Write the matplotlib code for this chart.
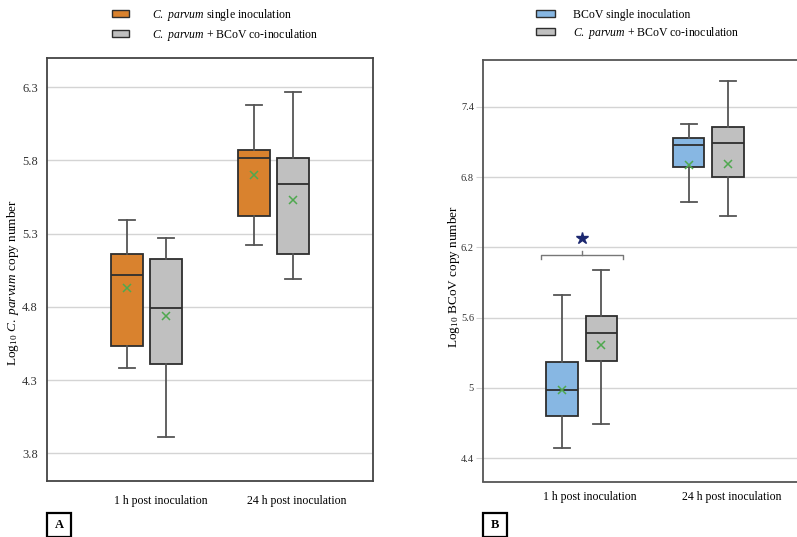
import numpy as np
import matplotlib as mpl
mpl.use('Agg')
import matplotlib.pyplot as plt
from matplotlib.patches import Patch, Rectangle

plt.rcParams['font.family'] = ['Liberation Serif', 'DejaVu Serif']
plt.rcParams['mathtext.fontset'] = 'custom'
plt.rcParams['mathtext.rm'] = 'Liberation Serif'
plt.rcParams['mathtext.it'] = 'Liberation Serif:italic'

# ---- data ----
groups = ['1 h post inoculation', '24 h post inoculation']

# panel A: C. parvum copy number (log10), one entry per time point
a_single_lo = [4.38, 5.22]
a_single_q1 = [4.53, 5.42]
a_single_med = [5.02, 5.82]
a_single_q3 = [5.16, 5.87]
a_single_hi = [5.39, 6.18]
a_single_mean = [4.93, 5.70]

a_co_lo = [3.91, 4.99]
a_co_q1 = [4.41, 5.16]
a_co_med = [4.79, 5.64]
a_co_q3 = [5.13, 5.82]
a_co_hi = [5.27, 6.27]
a_co_mean = [4.74, 5.53]

# panel B: BCoV copy number (log10)
b_single_lo = [4.49, 6.59]
b_single_q1 = [4.76, 6.89]
b_single_med = [4.98, 7.07]
b_single_q3 = [5.22, 7.13]
b_single_hi = [5.79, 7.25]
b_single_mean = [4.98, 6.90]

b_co_lo = [4.69, 6.47]
b_co_q1 = [5.23, 6.80]
b_co_med = [5.47, 7.09]
b_co_q3 = [5.61, 7.23]
b_co_hi = [6.01, 7.62]
b_co_mean = [5.37, 6.91]

a_ticks = [3.8, 4.3, 4.8, 5.3, 5.8, 6.3]
b_ticks = [4.4, 5.0, 5.6, 6.2, 6.8, 7.4]
b_tick_labels = ['4.4', '5', '5.6', '6.2', '6.8', '7.4']

ORANGE = '#d9822e'
GREY = '#c0c0c0'
BLUE = '#87b7e3'
EDGE = '#2e2e2e'
WHISK = '#555555'
GRID = '#d4d4d4'

FS = 8.5
W, H = 797, 537
CP = r'$\mathit{C.}$ $\mathit{parvum}$'


def stats(lo, q1, med, q3, hi, mean):
    return [dict(whislo=lo[i], q1=q1[i], med=med[i], q3=q3[i], whishi=hi[i],
                 mean=mean[i], fliers=[]) for i in range(len(lo))]


def draw_boxes(ax, st, pos, color):
    ax.bxp(st, positions=pos, widths=0.252, patch_artist=True, showmeans=True,
           showfliers=False, manage_ticks=False,
           boxprops=dict(facecolor=color, edgecolor=EDGE, linewidth=1.3),
           medianprops=dict(color=EDGE, linewidth=1.3),
           whiskerprops=dict(color=WHISK, linewidth=1.3),
           capprops=dict(color=WHISK, linewidth=1.3),
           meanprops=dict(marker='x', markeredgecolor='#4fa84f',
                          markersize=6, markeredgewidth=1.1))


def fig_axes(left, top, right, bottom):
    return fig.add_axes([left / W, 1 - bottom / H, (right - left) / W,
                         (bottom - top) / H])


fig = plt.figure(figsize=(W / 100, H / 100), dpi=100)
x = np.arange(1, len(groups) + 1)
off = 0.155

# ---------------- panel A ----------------
axA = fig_axes(47, 58, 373, 481)
draw_boxes(axA, stats(a_single_lo, a_single_q1, a_single_med, a_single_q3,
                      a_single_hi, a_single_mean), x - off, ORANGE)
draw_boxes(axA, stats(a_co_lo, a_co_q1, a_co_med, a_co_q3, a_co_hi,
                      a_co_mean), x + off, GREY)
axA.set_xlim(0.217, 2.783)
axA.set_ylim(3.61, 6.5)
axA.set_yticks(a_ticks)
axA.set_yticklabels(['%.1f' % t for t in a_ticks])
axA.set_xticks(x + np.array([0.11, 0.18]))
axA.set_xticklabels(groups)
axA.tick_params(axis='y', length=0, pad=6.5, labelsize=9, labelcolor='#333333')
axA.tick_params(axis='x', length=0, pad=10, labelsize=FS)
axA.yaxis.grid(True, color=GRID, linewidth=1)
axA.set_axisbelow(True)
for s in axA.spines.values():
    s.set_color('#444444')
    s.set_linewidth(1.3)
axA.set_ylabel(r'Log$_{10}$ ' + CP + ' copy number', fontsize=9.5)
axA.yaxis.set_label_coords(-0.081, 0.47)

# ---------------- panel B ----------------
axB = fig_axes(483, 60, 807, 481.5)
draw_boxes(axB, stats(b_single_lo, b_single_q1, b_single_med, b_single_q3,
                      b_single_hi, b_single_mean), x - off, BLUE)
draw_boxes(axB, stats(b_co_lo, b_co_q1, b_co_med, b_co_q3, b_co_hi,
                      b_co_mean), x + off, GREY)
axB.set_xlim(0.217, 2.783)
axB.set_ylim(4.2, 7.8)
axB.set_yticks(b_ticks)
axB.set_yticklabels(b_tick_labels)
axB.set_xticks(x + np.array([0.065, 0.19]))
axB.set_xticklabels(groups)
axB.tick_params(axis='y', length=5, color=GRID, pad=1.5, labelsize=7.5,
                labelcolor='#333333')
axB.tick_params(axis='x', length=0, pad=7, labelsize=FS)
axB.yaxis.grid(True, color=GRID, linewidth=1)
axB.set_axisbelow(True)
for s in axB.spines.values():
    s.set_color('#555555')
    s.set_linewidth(1.3)
axB.set_ylabel(r'Log$_{10}$ BCoV copy number', fontsize=9.5)
axB.yaxis.set_label_coords(-0.064, 0.485)

# significance bracket over the 1 h boxes
bl, br, by = x[0] - 0.327, x[0] + 0.327, 6.138
axB.plot([bl, bl, br, br], [by - 0.035, by, by, by - 0.035], color='#777777',
         lw=1)
axB.plot([x[0], x[0]], [by, by + 0.03], color='#777777', lw=1)
axB.plot([x[0]], [6.28], marker='*', color='#1c2870', markersize=9)

# ---------------- legends ----------------
legA = [Patch(facecolor=ORANGE, edgecolor=EDGE, linewidth=1),
        Patch(facecolor=GREY, edgecolor=EDGE, linewidth=1)]
fig.legend(legA, [CP + ' single inoculation',
                  CP + ' + BCoV co-inoculation'],
           loc='upper left', bbox_to_anchor=(112 / W, 1 - 7 / H),
           frameon=False, fontsize=FS, handlelength=1.45, handleheight=0.55,
           handletextpad=1.9, labelspacing=0.3, borderpad=0, borderaxespad=0)

legB = [Patch(facecolor=BLUE, edgecolor=EDGE, linewidth=1),
        Patch(facecolor=GREY, edgecolor=EDGE, linewidth=1)]
fig.legend(legB, ['BCoV single inoculation',
                  CP + ' + BCoV co-inoculation'],
           loc='upper left', bbox_to_anchor=(536 / W, 1 - 9 / H),
           frameon=False, fontsize=FS, handlelength=1.6, handleheight=0.55,
           handletextpad=1.5, labelspacing=0.3, borderpad=0, borderaxespad=0)

# ---------------- panel letters ----------------
for lx, letter in [(47, 'A'), (483, 'B')]:
    fig.add_artist(Rectangle((lx / W, 0.5 / H), 24 / W, 24 / H,
                             transform=fig.transFigure, fill=False,
                             edgecolor='black', linewidth=1.6))
    fig.text((lx + 12) / W, 12.5 / H, letter, fontsize=9, fontweight='bold',
             ha='center', va='center')

fig.savefig('out.png', dpi=100)
